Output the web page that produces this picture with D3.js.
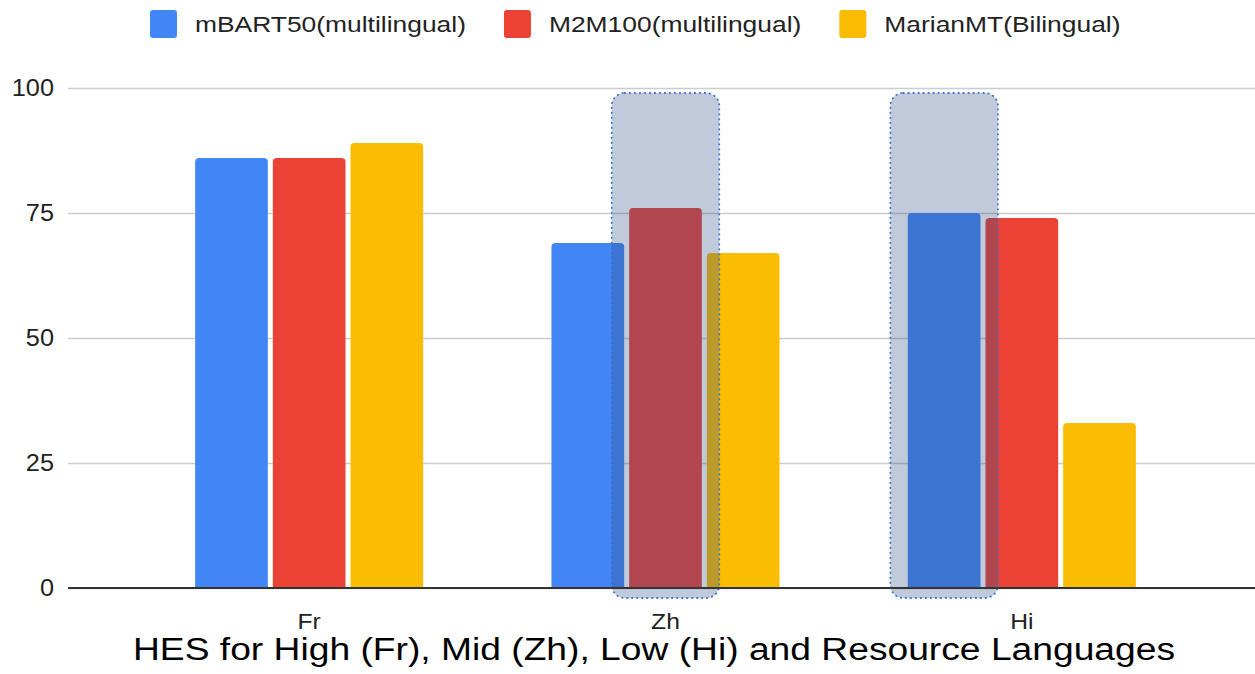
<html>
<head>
<meta charset="utf-8" />
<title>HES by language resource level</title>
<script src="https://cdn.jsdelivr.net/npm/d3@7"></script>
<style>
body { margin: 0; background: #fff; }
text { font-family: "Liberation Sans", Arial, sans-serif; }
</style>
</head>
<body>
<script>
// data
var languages = ["Fr", "Zh", "Hi"];
var models = ["mBART50(multilingual)", "M2M100(multilingual)", "MarianMT(Bilingual)"];
var mbart50 = [86, 69, 75];
var m2m100 = [86, 76, 74];
var marianmt = [89, 67, 33];
var yTicks = [0, 25, 50, 75, 100];
var highlightLang = ["Zh", "Hi"];
var highlightModel = [1, 0];
var title = "HES for High (Fr), Mid (Zh), Low (Hi) and Resource Languages";

var colors = ["#4285f4", "#ea4335", "#fbbc04"];
var seriesValues = [mbart50, m2m100, marianmt];

var W = 1255, H = 674;
var plotLeft = 68, plotRight = 1255;

var svg = d3.select("body").append("svg")
	.attr("width", W)
	.attr("height", H);

// the source screenshot is a bit wider than tall, so text gets stretched
function stretch(sel, k) {
	sel.each(function() {
		var len = this.getComputedTextLength() * k;
		d3.select(this).attr("textLength", len).attr("lengthAdjust", "spacingAndGlyphs");
	});
}

var y = d3.scaleLinear().domain([0, 100]).range([588, 88]);

var x0 = d3.scaleBand().domain(languages).range([131, 1200])
	.paddingInner(0.36).paddingOuter(0.18);
var x1 = d3.scaleBand().domain(d3.range(models.length)).range([0, x0.bandwidth()])
	.paddingInner(0.064);

// gridlines + tick labels
var yAxis = svg.append("g")
	.attr("transform", "translate(" + plotLeft + ",0)")
	.call(d3.axisLeft(y).tickValues(yTicks).tickSize(-(plotRight - plotLeft)).tickPadding(14));
yAxis.select(".domain").remove();
yAxis.selectAll(".tick line").attr("stroke", "#cccccc").attr("stroke-width", 1.5);
yAxis.selectAll(".tick text")
	.attr("fill", "#222")
	.style("font-size", "23px")
	.style("font-family", "'Liberation Sans', Arial, sans-serif");
stretch(yAxis.selectAll(".tick text"), 1.1);

// rounded-top bar path
function barPath(x, yTop, w, yBase, r) {
	r = Math.min(r, (yBase - yTop));
	return "M" + x + "," + yBase +
		"V" + (yTop + r) +
		"Q" + x + "," + yTop + " " + (x + r) + "," + yTop +
		"H" + (x + w - r) +
		"Q" + (x + w) + "," + yTop + " " + (x + w) + "," + (yTop + r) +
		"V" + yBase + "Z";
}

var bars = [];
languages.forEach(function(lang, li) {
	seriesValues.forEach(function(vals, si) {
		bars.push({lang: lang, s: si, v: vals[li]});
	});
});

svg.append("g").selectAll("path")
	.data(bars)
	.enter().append("path")
	.attr("fill", d => colors[d.s])
	.attr("d", d => barPath(x0(d.lang) + x1(d.s), y(d.v), x1.bandwidth(), y(0), 4));

// highlight boxes
var hl = highlightLang.map((l, i) => ({lang: l, s: highlightModel[i]}));
var boxW = x1.bandwidth() * 1.48;
svg.append("g").selectAll("rect")
	.data(hl)
	.enter().append("rect")
	.attr("x", d => x0(d.lang) + x1(d.s) + x1.bandwidth() / 2 - boxW / 2)
	.attr("y", y(99))
	.attr("width", boxW)
	.attr("height", y(-2) - y(99))
	.attr("rx", 13)
	.attr("fill", "rgb(45,78,135)")
	.attr("fill-opacity", 0.3)
	.attr("stroke", "#3f72d4")
	.attr("stroke-width", 1.8)
	.attr("stroke-dasharray", "0.5,4.5")
	.attr("stroke-linecap", "round");

// zero line
svg.append("line")
	.attr("x1", plotLeft).attr("x2", plotRight)
	.attr("y1", y(0)).attr("y2", y(0))
	.attr("stroke", "#333").attr("stroke-width", 2);

// category labels
var cat = svg.append("g").selectAll("text")
	.data(languages)
	.enter().append("text")
	.attr("x", d => x0(d) + x0.bandwidth() / 2)
	.attr("y", 629)
	.attr("text-anchor", "middle")
	.attr("fill", "#222")
	.style("font-size", "22px")
	.text(d => d);
stretch(cat, 1.12);

// title
var tt = svg.append("text")
	.attr("x", 654)
	.attr("y", 660)
	.attr("text-anchor", "middle")
	.attr("fill", "#000")
	.style("font-size", "31px")
	.text(title);
tt.attr("textLength", 1042).attr("lengthAdjust", "spacingAndGlyphs");

// legend
var lx = 150;
models.forEach(function(m, i) {
	svg.append("rect")
		.attr("x", lx).attr("y", 10)
		.attr("width", 27).attr("height", 28)
		.attr("rx", 3)
		.attr("fill", colors[i]);
	var t = svg.append("text")
		.attr("x", lx + 45)
		.attr("y", 32)
		.attr("fill", "#222")
		.style("font-size", "22px")
		.text(m);
	var len = t.node().getComputedTextLength() * 1.2;
	t.attr("textLength", len).attr("lengthAdjust", "spacingAndGlyphs");
	lx = lx + 45 + len + 38;
});
</script>
</body>
</html>
